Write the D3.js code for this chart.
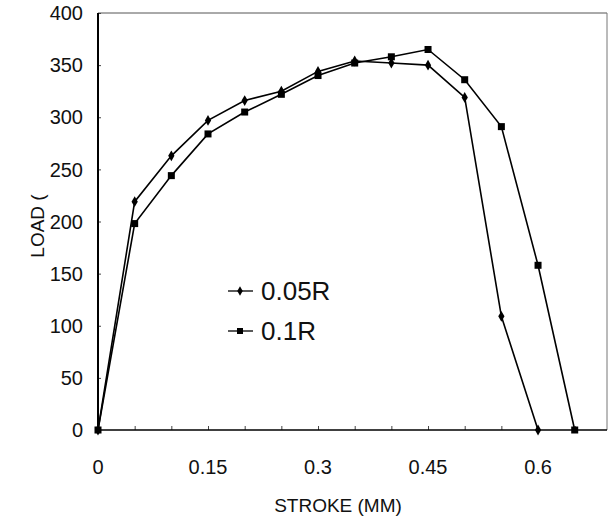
<!DOCTYPE html>
<html><head><meta charset="utf-8">
<script src="https://cdn.jsdelivr.net/npm/d3@7"></script>
<style>
html,body{margin:0;padding:0;background:#fff;}
svg text{font-family:"Liberation Sans",Arial,sans-serif;fill:#111;}
</style></head>
<body><svg id="c" width="609" height="524"></svg>
<script>
const xA = [0,0.05,0.1,0.15,0.2,0.25,0.3,0.35,0.4,0.45,0.5,0.55,0.6];
const yA = [0,219,263,297,316,325,344,354,352,350,319,109,0];
const xB = [0,0.05,0.1,0.15,0.2,0.25,0.3,0.35,0.4,0.45,0.5,0.55,0.6,0.65];
const yB = [0,198,244,284,305,322,340,352,358,365,336,291,158,0];
const xTicks = [0,0.15,0.3,0.45,0.6];
const xTickLabels = ["0","0.15","0.3","0.45","0.6"];
const xMinor = [0.05,0.1,0.2,0.25,0.35,0.4,0.5,0.55,0.65];
const yTicks = [0,50,100,150,200,250,300,350,400];
const seriesNames = ["0.05R","0.1R"];

const svg = d3.select("#c");
const L=98, R=607, T=13, B=430;
const x = d3.scaleLinear().domain([0,0.7]).range([L, L + 14*36.67]);
const y = d3.scaleLinear().domain([0,400]).range([B, T]);

svg.append("line").attr("x1",L).attr("x2",R).attr("y1",T).attr("y2",T).attr("stroke","#555").attr("stroke-width",1);
svg.append("line").attr("x1",R).attr("x2",R).attr("y1",T).attr("y2",B).attr("stroke","#777").attr("stroke-width",1);

const ya = svg.append("g").attr("transform",`translate(${L},0)`)
  .call(d3.axisRight(y).tickValues(yTicks).tickSize(3).tickFormat(""));
ya.select(".domain").remove();
ya.selectAll(".tick line").attr("stroke","#444");
svg.append("line").attr("x1",L).attr("x2",L).attr("y1",T).attr("y2",B).attr("stroke","#000").attr("stroke-width",2);
svg.selectAll(".ylab").data(yTicks).enter().append("text")
  .attr("x",83).attr("y",d=>y(d)).attr("dy","0.36em").attr("text-anchor","end")
  .attr("font-size",20).text(d=>d);

const xa = svg.append("g").attr("transform",`translate(0,${B})`)
  .call(d3.axisTop(x).tickValues(xTicks.concat(xMinor)).tickSize(4).tickFormat(""));
xa.select(".domain").remove();
xa.selectAll(".tick line").attr("stroke","#444");
svg.append("line").attr("x1",L).attr("x2",R).attr("y1",B).attr("y2",B).attr("stroke","#000").attr("stroke-width",1.5);
svg.selectAll(".xlab").data(xTicks).enter().append("text")
  .attr("x",d=>x(d)).attr("y",467).attr("dy","0.36em").attr("text-anchor","middle")
  .attr("font-size",20).text((d,i)=>xTickLabels[i]);

svg.append("text").attr("x",338).attr("y",505).attr("dy","0.36em").attr("text-anchor","middle").attr("font-size",19).text("STROKE (MM)");
svg.append("text").attr("transform","translate(37,226) rotate(-90)").attr("dy","0.36em").attr("text-anchor","middle").attr("font-size",19).text("LOAD (");

const line = d3.line().x(d=>x(d[0])).y(d=>y(d[1]));
const dA = xA.map((v,i)=>[v,yA[i]]);
const dB = xB.map((v,i)=>[v,yB[i]]);
[dA,dB].forEach(d=>{
  svg.append("path").datum(d).attr("d",line).attr("fill","none").attr("stroke","#000").attr("stroke-width",1.6);
});
const diamond = d3.symbol().type(d3.symbolDiamond).size(34);
svg.selectAll(".mA").data(dA).enter().append("path")
  .attr("transform",d=>`translate(${x(d[0])},${y(d[1])})`).attr("d",diamond()).attr("fill","#000");
svg.selectAll(".mB").data(dB).enter().append("rect")
  .attr("x",d=>x(d[0])-3.5).attr("y",d=>y(d[1])-3.5).attr("width",7).attr("height",7).attr("fill","#000");

const lg = [{y:291, name:seriesNames[0], sym:"d"},{y:331, name:seriesNames[1], sym:"s"}];
lg.forEach(o=>{
  svg.append("line").attr("x1",228).attr("x2",253).attr("y1",o.y).attr("y2",o.y).attr("stroke","#000").attr("stroke-width",1.3);
  if(o.sym==="d") svg.append("path").attr("transform",`translate(240,${o.y})`).attr("d",d3.symbol().type(d3.symbolDiamond).size(26)()).attr("fill","#000");
  else svg.append("rect").attr("x",237).attr("y",o.y-3).attr("width",6).attr("height",6).attr("fill","#000");
  svg.append("text").attr("x",261).attr("y",o.y).attr("dy","0.36em").attr("font-size",26).text(o.name);
});
</script></body></html>
